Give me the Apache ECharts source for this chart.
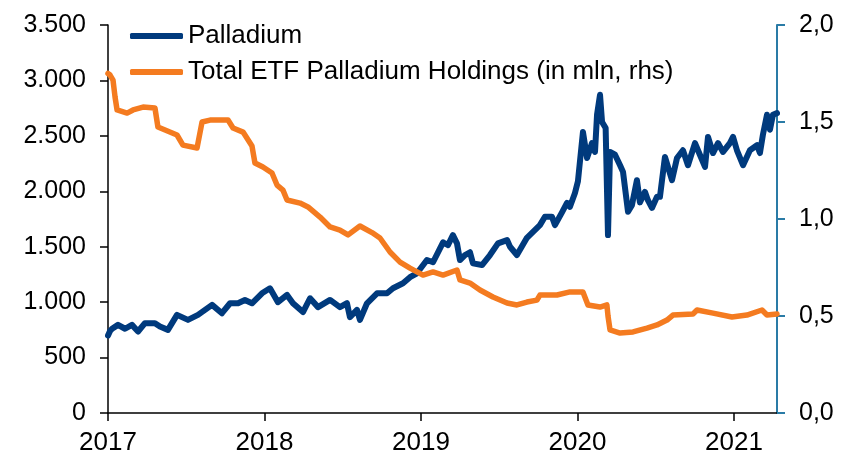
<!DOCTYPE html>
<html>
<head>
<meta charset="utf-8">
<script src="https://cdn.jsdelivr.net/npm/echarts@6/dist/echarts.min.js"></script>
<style>
  html, body { margin: 0; padding: 0; background: #fff; }
  #chart { width: 846px; height: 462px; }
</style>
</head>
<body>
<div id="chart"></div>
<script>
// x values are decimal years
const yearTicks = [2017, 2018, 2019, 2020, 2021];

const palladiumYears = [
  2017.000, 2017.013, 2017.026, 2017.064, 2017.109, 2017.153, 2017.192, 2017.236, 2017.300, 2017.332,
  2017.383, 2017.441, 2017.511, 2017.575, 2017.665, 2017.728, 2017.780, 2017.831, 2017.875, 2017.920,
  2017.984, 2018.035, 2018.086, 2018.144, 2018.182, 2018.246, 2018.291, 2018.342, 2018.419, 2018.482,
  2018.527, 2018.546, 2018.591, 2018.610, 2018.655, 2018.719, 2018.783, 2018.821, 2018.885, 2018.930,
  2018.974, 2019.038, 2019.077, 2019.141, 2019.173, 2019.204, 2019.230, 2019.249, 2019.281, 2019.313,
  2019.332, 2019.390, 2019.441, 2019.492, 2019.550, 2019.569, 2019.613, 2019.677, 2019.760, 2019.792,
  2019.837, 2019.856, 2019.901, 2019.933, 2019.952, 2019.984, 2020.003, 2020.035, 2020.061, 2020.093,
  2020.112, 2020.125, 2020.144, 2020.157, 2020.180, 2020.195, 2020.208, 2020.240, 2020.272, 2020.291,
  2020.323, 2020.348, 2020.380, 2020.399, 2020.431, 2020.450, 2020.476, 2020.508, 2020.527, 2020.559,
  2020.604, 2020.636, 2020.674, 2020.706, 2020.751, 2020.770, 2020.815, 2020.834, 2020.866, 2020.898,
  2020.930, 2020.974, 2020.994, 2021.019, 2021.058, 2021.102, 2021.147, 2021.166, 2021.185, 2021.211,
  2021.230, 2021.249, 2021.275
];
const palladiumPrices = [
  700, 740, 760, 795, 760, 795, 735, 810, 810, 780,
  750, 885, 840, 885, 975, 900, 990, 990, 1020, 990,
  1080, 1125, 1000, 1065, 990, 910, 1035, 955, 1020, 955,
  990, 865, 930, 840, 990, 1080, 1080, 1125, 1170, 1225,
  1260, 1380, 1360, 1540, 1515, 1605, 1530, 1380, 1425, 1450,
  1350, 1335, 1425, 1530, 1560, 1500, 1425, 1580, 1695, 1770,
  1770, 1695, 1810, 1895, 1860, 1985, 2090, 2535, 2300, 2435,
  2355, 2690, 2870, 2625, 2570, 1605, 2355, 2330, 2235, 2175,
  1815, 1875, 2100, 1900, 1995, 1920, 1850, 1950, 1950, 2310,
  2100, 2300, 2370, 2235, 2435, 2370, 2220, 2490, 2345, 2435,
  2355, 2435, 2490, 2370, 2235, 2370, 2415, 2345, 2510, 2690,
  2555, 2690, 2705
];

const etfYears = [
  2017.000, 2017.013, 2017.032, 2017.045, 2017.058, 2017.122, 2017.160, 2017.224, 2017.300, 2017.319,
  2017.441, 2017.479, 2017.569, 2017.601, 2017.652, 2017.767, 2017.799, 2017.863, 2017.920, 2017.939,
  2017.990, 2018.048, 2018.080, 2018.118, 2018.144, 2018.227, 2018.278, 2018.355, 2018.419, 2018.482,
  2018.534, 2018.610, 2018.687, 2018.738, 2018.802, 2018.866, 2018.930, 2019.013, 2019.077, 2019.141,
  2019.230, 2019.249, 2019.313, 2019.377, 2019.460, 2019.550, 2019.613, 2019.677, 2019.741, 2019.760,
  2019.869, 2019.952, 2020.035, 2020.067, 2020.144, 2020.188, 2020.195, 2020.208, 2020.272, 2020.355,
  2020.444, 2020.508, 2020.572, 2020.610, 2020.738, 2020.764, 2020.866, 2020.987, 2021.083, 2021.179,
  2021.211, 2021.275
];
const etfHoldings = [
  1.750, 1.742, 1.716, 1.629, 1.562, 1.546, 1.562, 1.577, 1.572, 1.474,
  1.433, 1.381, 1.366, 1.500, 1.510, 1.510, 1.469, 1.448, 1.376, 1.289,
  1.268, 1.237, 1.175, 1.149, 1.098, 1.082, 1.062, 1.010, 0.959, 0.943,
  0.918, 0.964, 0.930, 0.902, 0.830, 0.778, 0.747, 0.711, 0.727, 0.711,
  0.737, 0.686, 0.670, 0.634, 0.598, 0.567, 0.557, 0.572, 0.582, 0.608,
  0.608, 0.624, 0.624, 0.557, 0.546, 0.557, 0.500, 0.428, 0.412, 0.418,
  0.438, 0.454, 0.479, 0.505, 0.510, 0.531, 0.515, 0.495, 0.505, 0.531,
  0.505, 0.510
];

const FONT = "'Liberation Sans', Arial, sans-serif";
const BLUE = '#003A7D';
const ORANGE = '#F47B20';
const TEAL = '#2A7BA6';

const chart = echarts.init(document.getElementById('chart'), null, { renderer: 'canvas' });
chart.setOption({
  animation: false,
  backgroundColor: '#fff',
  grid: { left: 108, right: 69, top: 25, bottom: 49 },
  legend: {
    orient: 'vertical', left: 130, top: 23, itemGap: 10, padding: 0,
    itemWidth: 53, itemHeight: 6, icon: 'roundRect',
    textStyle: { fontFamily: FONT, fontSize: 26, color: '#000' },
    data: ['Palladium', 'Total ETF Palladium Holdings (in mln, rhs)']
  },
  xAxis: {
    type: 'value', min: 2017, max: 2021.275,
    splitLine: { show: false },
    axisLine: { lineStyle: { color: '#000', width: 1.5 } },
    axisTick: { length: 8, customValues: yearTicks, lineStyle: { color: '#000', width: 1.5 } },
    axisLabel: {
      customValues: yearTicks, margin: 17,
      fontFamily: FONT, fontSize: 26, color: '#000',
      formatter: v => String(Math.round(v))
    }
  },
  yAxis: [
    {
      type: 'value', min: 0, max: 3500, interval: 500,
      splitLine: { show: false },
      axisLine: { show: true, lineStyle: { color: '#000', width: 1.5 } },
      axisTick: { show: true, length: 8, lineStyle: { color: '#000', width: 1.5 } },
      axisLabel: {
        margin: 22, fontFamily: FONT, fontSize: 25, color: '#000',
        formatter: v => v >= 1000 ? Math.floor(v / 1000) + '.' + String(v % 1000).padStart(3, '0') : String(v)
      }
    },
    {
      type: 'value', min: 0, max: 2, interval: 0.5, position: 'right',
      splitLine: { show: false },
      axisLine: { show: true, lineStyle: { color: TEAL, width: 2 } },
      axisTick: { show: true, length: 8, lineStyle: { color: TEAL, width: 2 } },
      axisLabel: {
        margin: 22, fontFamily: FONT, fontSize: 25, color: '#000',
        formatter: v => v.toFixed(1).replace('.', ',')
      }
    }
  ],
  series: [
    {
      name: 'Palladium', type: 'line', yAxisIndex: 0,
      showSymbol: false, symbol: 'none',
      color: BLUE,
      lineStyle: { color: BLUE, width: 6, join: 'round', cap: 'round' },
      data: palladiumYears.map((x, i) => [x, palladiumPrices[i]])
    },
    {
      name: 'Total ETF Palladium Holdings (in mln, rhs)', type: 'line', yAxisIndex: 1,
      showSymbol: false, symbol: 'none',
      color: ORANGE,
      lineStyle: { color: ORANGE, width: 5.5, join: 'round', cap: 'round' },
      data: etfYears.map((x, i) => [x, etfHoldings[i]])
    }
  ]
});
</script>
</body>
</html>
